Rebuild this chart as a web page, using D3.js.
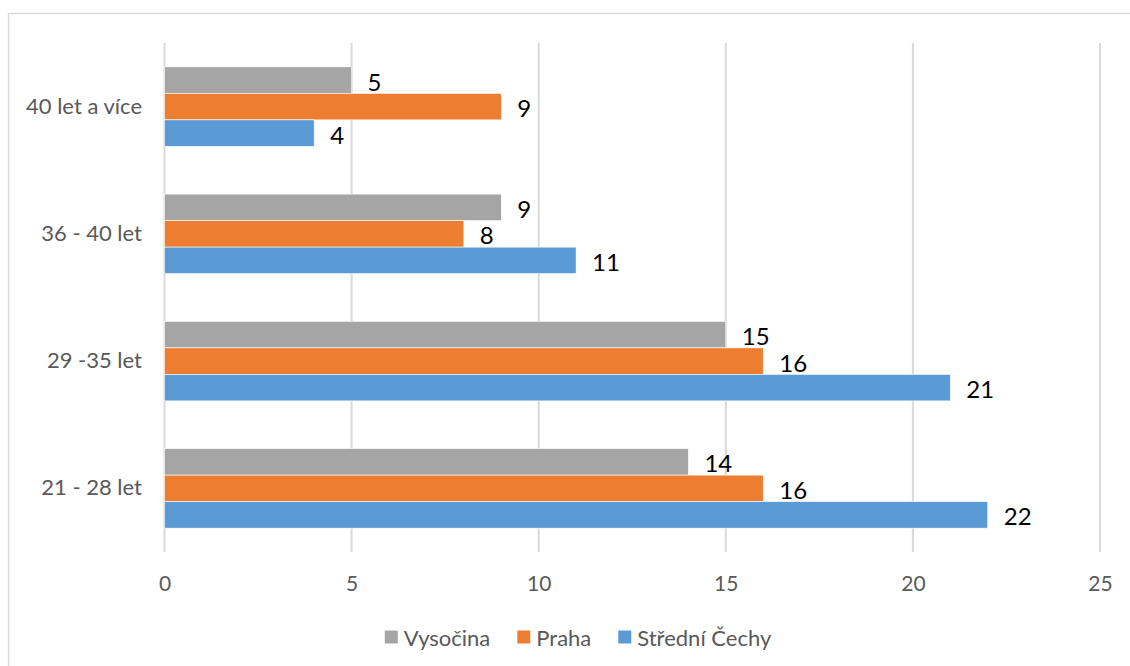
<!DOCTYPE html>
<html>
<head>
<meta charset="utf-8">
<title>Věkové skupiny podle kraje</title>
<script src="https://d3js.org/d3.v7.min.js"></script>
<style>
    body { margin: 0; background: #fff; }
    svg { display: block; font-family: Lato, "Open Sans", sans-serif; }
</style>
</head>
<body>
<div id="chart"></div>
<script>
// data
const categories = ["40 let a více", "36 - 40 let", "29 -35 let", "21 - 28 let"];
const seriesNames = ["Vysočina", "Praha", "Střední Čechy"];
const vysocina = [5, 9, 15, 14];
const praha = [9, 8, 16, 16];
const stredniCechy = [4, 11, 21, 22];
const xTicks = [0, 5, 10, 15, 20, 25];

const colors = ["#a5a5a5", "#ed7d31", "#5b9bd5"];
const seriesValues = [vysocina, praha, stredniCechy];

const W = 1130, H = 666;
const plot = {left: 164.5, right: 1100, top: 43, bottom: 552};

const svg = d3.select("#chart").append("svg")
    .attr("width", W)
    .attr("height", H);

// chart frame (right and bottom edges fall outside the picture)
svg.append("rect")
    .attr("x", 8.5).attr("y", 13.5)
    .attr("width", 1200).attr("height", 700)
    .attr("fill", "none")
    .attr("stroke", "#d9d9d9")
    .attr("stroke-width", 1.5);

const x = d3.scaleLinear().domain([0, 25]).range([plot.left, plot.right]);

const y = d3.scaleBand()
    .domain(categories)
    .range([plot.top, plot.bottom])
    .paddingInner(0.375)
    .paddingOuter(0.1875);

const ys = d3.scaleBand()
    .domain(seriesNames)
    .range([0, y.bandwidth()]);

// vertical gridlines
svg.append("g")
    .selectAll("line")
    .data(xTicks)
    .join("line")
    .attr("x1", d => x(d)).attr("x2", d => x(d))
    .attr("y1", plot.top).attr("y2", plot.bottom)
    .attr("stroke", "#d9d9d9")
    .attr("stroke-width", 2);

// x axis labels
const xAxis = d3.axisBottom(x).tickValues(xTicks).tickSize(0).tickPadding(0);
const gx = svg.append("g")
    .attr("transform", "translate(0," + 576 + ")")
    .call(xAxis);
gx.select(".domain").remove();
gx.selectAll("text")
    .attr("font-family", "Lato, sans-serif")
    .attr("font-size", "21px")
    .attr("fill", "#595959");

// category labels
const yAxis = d3.axisLeft(y).tickSize(0).tickPadding(0);
const gy = svg.append("g")
    .attr("transform", "translate(142,0)")
    .call(yAxis);
gy.select(".domain").remove();
gy.selectAll("text")
    .attr("font-family", "Lato, sans-serif")
    .attr("font-size", "22px")
    .attr("fill", "#595959");

// bars
const rows = [];
seriesNames.forEach((s, i) => {
    categories.forEach((c, j) => {
        rows.push({series: s, cat: c, value: seriesValues[i][j], color: colors[i]});
    });
});

svg.append("g")
    .selectAll("rect")
    .data(rows)
    .join("rect")
    .attr("x", x(0))
    .attr("y", d => y(d.cat) + ys(d.series))
    .attr("width", d => x(d.value) - x(0))
    .attr("height", ys.bandwidth())
    .attr("fill", d => d.color)
    .attr("stroke", "#ffffff")
    .attr("stroke-width", 0.6);

// value labels
svg.append("g")
    .selectAll("text")
    .data(rows)
    .join("text")
    .attr("x", d => x(d.value) + 16)
    .attr("y", d => y(d.cat) + ys(d.series) + ys.bandwidth() / 2 + 1)
    .attr("dominant-baseline", "central")
    .attr("font-size", "24px")
    .attr("fill", "#000")
    .text(d => d.value);

// legend
const legend = svg.append("g");
const items = legend.selectAll("g")
    .data(seriesNames)
    .join("g");
items.append("rect")
    .attr("width", 13).attr("height", 13)
    .attr("y", 630.5)
    .attr("fill", (d, i) => colors[i]);
items.append("text")
    .attr("x", 19)
    .attr("y", 637)
    .attr("dominant-baseline", "central")
    .attr("font-size", "22px")
    .attr("fill", "#595959")
    .text(d => d);

let offs = 0;
const widths = [];
items.each(function() {
    widths.push(19 + this.querySelector("text").getComputedTextLength());
});
const gap = 27;
const total = d3.sum(widths) + gap * (widths.length - 1);
let start = 578 - total / 2;
items.attr("transform", (d, i) => {
    const t = "translate(" + (start + offs) + ",0)";
    offs += widths[i] + gap;
    return t;
});
</script>
</body>
</html>
